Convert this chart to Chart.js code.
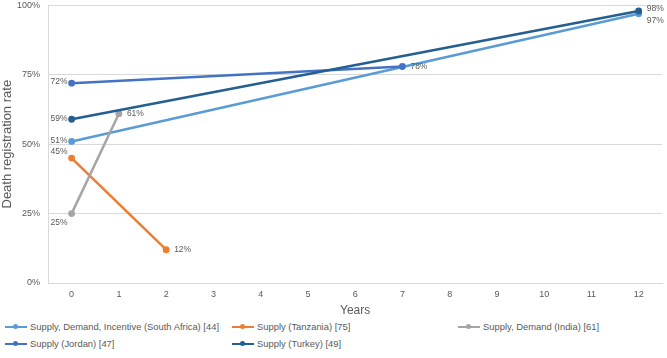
<!DOCTYPE html>
<html>
<head>
<meta charset="utf-8">
<script src="https://cdn.jsdelivr.net/npm/chart.js@4/dist/chart.umd.min.js"></script>
<style>
  body { margin: 0; background: #fff; font-family: "Liberation Sans", Arial, sans-serif; overflow: hidden; }
  #wrap { position: relative; width: 667px; height: 358px; overflow: hidden; }
  #box { position: absolute; left: 0; top: -8px; width: 667px; height: 326px; }
  #legend { position: absolute; left: 0; top: 321px; width: 667px; }
  .item { position: absolute; font-size: 9.4px; color: #595959; white-space: nowrap; line-height: 12px; }
  .sw { display: inline-block; position: relative; width: 22px; height: 2px; vertical-align: middle; margin-right: 3px; top: -1px; }
  .sw i { position: absolute; left: 8px; top: -2px; width: 5px; height: 5px; border-radius: 50%; }
</style>
</head>
<body>
<div id="wrap">
  <div id="box"><canvas id="chart"></canvas></div>
  <div id="legend"></div>
</div>
<script>
const years = ["0", "1", "2", "3", "4", "5", "6", "7", "8", "9", "10", "11", "12"];

const southAfrica = [51, null, null, null, null, null, null, null, null, null, null, null, 97];
const tanzania    = [45, null, 12, null, null, null, null, null, null, null, null, null, null];
const india       = [25, 61, null, null, null, null, null, null, null, null, null, null, null];
const jordan      = [72, null, null, null, null, null, null, 78, null, null, null, null, null];
const turkey      = [59, null, null, null, null, null, null, null, null, null, null, null, 98];

const seriesNames = [
    "Supply, Demand, Incentive (South Africa) [44]",
    "Supply (Tanzania) [75]",
    "Supply, Demand (India) [61]",
    "Supply (Jordan) [47]",
    "Supply (Turkey) [49]"
];
const yTicks = [0, 25, 50, 75, 100];

const colors = ["#5B9BD5", "#ED7D31", "#A5A5A5", "#4472C4", "#255E91"];
// where each point label sits: [first point, last point]
const labelPos = [["left", "right-low"], ["above-left", "right"], ["below-left", "right"], ["left", "right"], ["left", "right-high"]];

const allSeries = [southAfrica, tanzania, india, jordan, turkey];

const datasets = allSeries.map((vals, i) => ({
    label: seriesNames[i],
    data: vals,
    borderColor: colors[i],
    backgroundColor: colors[i],
    borderWidth: 2.5,
    pointRadius: 2.2,
    pointHoverRadius: 2.2,
    spanGaps: true,
    order: 5 - i
}));

const pointLabels = {
    id: "pointLabels",
    afterDatasetsDraw(chart) {
        const ctx = chart.ctx;
        ctx.save();
        ctx.font = "8.5px 'Liberation Sans', Arial, sans-serif";
        ctx.fillStyle = "#595959";
        ctx.textBaseline = "middle";
        chart.data.datasets.forEach((ds, di) => {
            const meta = chart.getDatasetMeta(di);
            const idx = [];
            ds.data.forEach((v, j) => { if (v !== null) idx.push(j); });
            idx.forEach((j, k) => {
                const pt = meta.data[j];
                const txt = ds.data[j] + "%";
                const pos = labelPos[di][k];
                let x = pt.x, y = pt.y;
                if (pos === "left") { ctx.textAlign = "right"; x -= 4; y -= 1; }
                else if (pos === "above-left") { ctx.textAlign = "right"; x -= 4; y -= 6; }
                else if (pos === "below-left") { ctx.textAlign = "right"; x -= 4; y += 9; }
                else if (pos === "right-low") { ctx.textAlign = "left"; x += 8; y += 7; }
                else if (pos === "right-high") { ctx.textAlign = "left"; x += 8; y -= 2; }
                else { ctx.textAlign = "left"; x += 8; }
                ctx.fillText(txt, x, y);
            });
        });
        ctx.restore();
    }
};

new Chart(document.getElementById("chart"), {
    type: "line",
    data: { labels: years, datasets: datasets },
    options: {
        responsive: true,
        maintainAspectRatio: false,
        animation: false,
        layout: { padding: { top: 0, right: 4, left: 0, bottom: 0 } },
        plugins: {
            legend: { display: false },
            tooltip: { enabled: false }
        },
        scales: {
            x: {
                offset: true,
                afterFit: (s) => { s.height = 35; },
                grid: { display: false, drawTicks: false },
                border: { color: "#D9D9D9" },
                ticks: { color: "#595959", font: { size: 9 }, padding: 6 },
                title: { display: true, text: "Years", color: "#595959", font: { size: 12 }, padding: { top: 1, bottom: 0 } }
            },
            y: {
                min: 0,
                max: 100,
                afterBuildTicks: (s) => { s.ticks = yTicks.map(v => ({ value: v })); },
                afterFit: (s) => { s.width = 48; },
                grid: { color: "#D9D9D9", drawTicks: false },
                border: { color: "#D9D9D9" },
                ticks: { color: "#595959", font: { size: 9 }, padding: 8, callback: v => v + "%" },
                title: { display: true, text: "Death registration rate", color: "#595959", font: { size: 13 }, padding: 0 }
            }
        }
    },
    plugins: [pointLabels]
});

// legend in three columns, like the original
const legend = document.getElementById("legend");
const colX = [5, 232, 458];
seriesNames.forEach((name, i) => {
    const d = document.createElement("div");
    d.className = "item";
    d.style.left = colX[i % 3] + "px";
    d.style.top = (Math.floor(i / 3) * 17) + "px";
    d.innerHTML = '<span class="sw" style="background:' + colors[i] + '"><i style="background:' + colors[i] + '"></i></span>' + name;
    legend.appendChild(d);
});
</script>
</body>
</html>
